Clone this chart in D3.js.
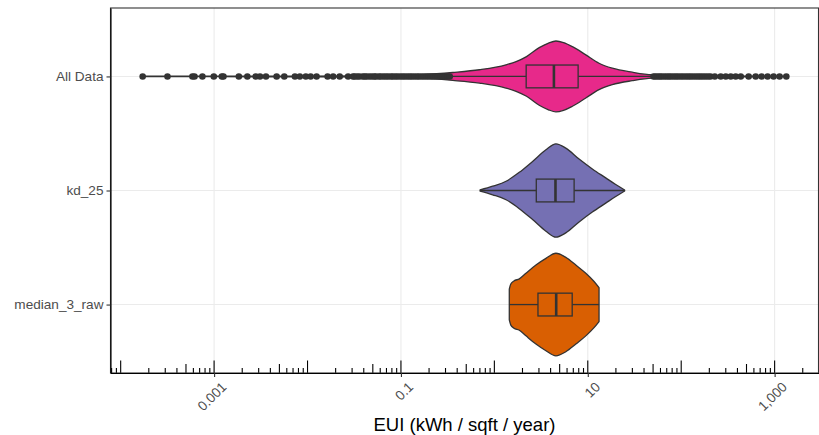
<!DOCTYPE html>
<html>
<head>
<meta charset="utf-8">
<title>EUI violins</title>
<script src="https://unpkg.com/d3@7.8.2/dist/d3.min.js"></script>
<style>
  body { margin: 0; background: #fff; }
  text { font-family: "Liberation Sans", Arial, sans-serif; }
</style>
</head>
<body>
<div id="chart"></div>
<script>
// groups, top to bottom
const groups = ["All Data", "kd_25", "median_3_raw"];
const fills = ["#E7298A", "#7570B3", "#D95F02"];

// violin outlines: EUI value and density (relative to the widest violin)
const allDataEui = [0.000172, 0.001, 0.01, 0.1, 0.359, 0.692, 1.33, 1.71, 2.21, 3.02, 3.8, 4.56, 5.5, 6.85, 9.53, 13.2, 18.3, 29.9, 49.0, 200, 1334];
const allDataDens = [0.004, 0.005, 0.007, 0.015, 0.077, 0.13, 0.226, 0.29, 0.387, 0.561, 0.65, 0.69, 0.66, 0.58, 0.42, 0.257, 0.16, 0.083, 0.033, 0.01, 0.004];
const kd25Eui = [0.703, 0.959, 1.334, 1.849, 2.564, 3.565, 4.56, 5.82, 8.07, 11.19, 15.56, 19.9, 24.8];
const kd25Dens = [0.01, 0.083, 0.18, 0.354, 0.567, 0.793, 0.909, 0.826, 0.613, 0.42, 0.246, 0.116, 0.01];
const median3Eui = [1.445, 1.5, 1.62, 1.849, 2.178, 2.786, 3.565, 4.56, 5.82, 7.45, 9.53, 11.67, 13.2];
const median3Dens = [0.3, 0.4, 0.46, 0.50, 0.61, 0.77, 0.90, 1.0, 0.92, 0.77, 0.61, 0.45, 0.33];

// boxplot stats per group
const whiskerLow = [0.348, 0.703, 1.445];
const q1 = [2.19, 2.81, 2.93];
const median = [4.34, 4.51, 4.59];
const q3 = [7.88, 7.14, 6.81];
const whiskerHigh = [48.6, 24.8, 13.2];

// outliers of "All Data"
const outliersLow = [0.000172, 0.000317, 0.000586, 0.000617, 0.00075, 0.000993, 0.00121, 0.00126, 0.00184,
  0.00227, 0.00279, 0.0031, 0.00359, 0.00467, 0.00564, 0.00733, 0.00828, 0.00959, 0.0108, 0.0125,
  0.0164, 0.0188, 0.0221, 0.0272, 0.0307, 0.032, 0.034, 0.036, 0.039, 0.041, 0.043, 0.046, 0.049,
  0.052, 0.054, 0.058, 0.061, 0.065, 0.069, 0.073, 0.078, 0.082, 0.087, 0.092, 0.098, 0.104, 0.11,
  0.117, 0.124, 0.131, 0.139, 0.148, 0.156, 0.166, 0.176, 0.187, 0.198, 0.21, 0.222, 0.236, 0.25,
  0.265, 0.281, 0.298, 0.316, 0.333];
const outliersHigh = [50.5, 53, 56, 59, 62, 66, 70, 74, 78, 83, 88, 93, 99, 105, 112, 119, 126, 134,
  143, 152, 161, 171, 182, 194, 206, 229, 265, 300, 339, 383, 434, 527, 627, 726, 841, 975, 1130, 1334];

const xBreaks = [0.001, 0.1, 10, 1000];

const W = 819, H = 435;
const panel = { left: 110.5, right: 818.5, top: 8, bottom: 373 };

const svg = d3.select("#chart").append("svg")
  .attr("width", W).attr("height", H);

// x: log scale with ggplot-style 5% expansion around the data
const lo = Math.log10(d3.min(outliersLow)), hi = Math.log10(d3.max(outliersHigh));
const pad = (hi - lo) * 0.05;
const x = d3.scaleLog()
  .domain([Math.pow(10, lo - pad), Math.pow(10, hi + pad)])
  .range([panel.left, panel.right]);

const y = d3.scalePoint()
  .domain(groups)
  .range([panel.top, panel.bottom])
  .padding(0.6);
const step = y.step();

// grid
svg.append("g").selectAll("line")
  .data(xBreaks).join("line")
  .attr("x1", d => x(d)).attr("x2", d => x(d))
  .attr("y1", panel.top).attr("y2", panel.bottom)
  .attr("stroke", "#ebebeb").attr("stroke-width", 1.1);
svg.append("g").selectAll("line")
  .data(groups).join("line")
  .attr("x1", panel.left).attr("x2", panel.right)
  .attr("y1", d => y(d)).attr("y2", d => y(d))
  .attr("stroke", "#ebebeb").attr("stroke-width", 1.1);

// violins
const violins = [
  { eui: allDataEui, dens: allDataDens },
  { eui: kd25Eui, dens: kd25Dens },
  { eui: median3Eui, dens: median3Dens }
];
const halfMax = 0.45 * step;

violins.forEach((v, i) => {
  const cy = y(groups[i]);
  const pts = v.eui.map((e, k) => [e, v.dens[k]]);
  const area = d3.area()
    .x(d => x(d[0]))
    .y0(d => cy + d[1] * halfMax)
    .y1(d => cy - d[1] * halfMax)
    .curve(d3.curveMonotoneX);
  svg.append("path")
    .datum(pts)
    .attr("d", area)
    .attr("fill", fills[i])
    .attr("stroke", "#333333")
    .attr("stroke-width", 1.3)
    .attr("stroke-linejoin", "round");
});

// boxplots
const boxHalf = 0.1 * step;
groups.forEach((g, i) => {
  const cy = y(g);
  const gb = svg.append("g").attr("stroke", "#333333").attr("stroke-width", 1.3);
  gb.append("line")
    .attr("x1", x(whiskerLow[i])).attr("x2", x(q1[i]))
    .attr("y1", cy).attr("y2", cy);
  gb.append("line")
    .attr("x1", x(q3[i])).attr("x2", x(whiskerHigh[i]))
    .attr("y1", cy).attr("y2", cy);
  gb.append("rect")
    .attr("x", x(q1[i])).attr("width", x(q3[i]) - x(q1[i]))
    .attr("y", cy - boxHalf).attr("height", 2 * boxHalf)
    .attr("fill", fills[i]);
  gb.append("line")
    .attr("x1", x(median[i])).attr("x2", x(median[i]))
    .attr("y1", cy - boxHalf).attr("y2", cy + boxHalf)
    .attr("stroke-width", 2.6);
});

// outliers
svg.append("g").selectAll("circle")
  .data(outliersLow.concat(outliersHigh)).join("circle")
  .attr("cx", d => x(d)).attr("cy", y("All Data"))
  .attr("r", 3.3)
  .attr("fill", "#333333");

// log ticks along the bottom
const logTicks = [];
for (let e = -5; e <= 4; e++) {
  for (let k = 1; k <= 9; k++) {
    const v = k * Math.pow(10, e);
    if (v >= x.domain()[0] && v <= x.domain()[1]) logTicks.push({ v, k });
  }
}
svg.append("g").selectAll("line")
  .data(logTicks).join("line")
  .attr("x1", d => x(d.v)).attr("x2", d => x(d.v))
  .attr("y1", panel.bottom)
  .attr("y2", d => panel.bottom - (d.k === 1 ? 12.5 : d.k === 5 ? 9 : 5))
  .attr("stroke", "#000").attr("stroke-width", 1.1);

// panel border
svg.append("rect")
  .attr("x", panel.left).attr("y", panel.top)
  .attr("width", panel.right - panel.left).attr("height", panel.bottom - panel.top)
  .attr("fill", "none").attr("stroke", "#333333").attr("stroke-width", 1.1);

// axes
const xAxis = svg.append("g")
  .attr("transform", `translate(0,${panel.bottom})`)
  .call(d3.axisBottom(x).tickValues(xBreaks).tickSize(4).tickSizeOuter(0)
    .tickFormat(d => d3.format(",")(d)));
xAxis.select(".domain").attr("stroke", "#000").attr("stroke-width", 1.1);
xAxis.selectAll(".tick line").attr("stroke", "#333333").attr("stroke-width", 1.1);
xAxis.selectAll(".tick text")
  .attr("fill", "#4d4d4d")
  .attr("font-size", 13.6)
  .attr("text-anchor", "end")
  .attr("dy", null)
  .attr("y", null)
  .attr("transform", "translate(6,8) rotate(-45)")
  .attr("dominant-baseline", "hanging");

const yAxis = svg.append("g")
  .attr("transform", `translate(${panel.left},0)`)
  .call(d3.axisLeft(y).tickSize(4).tickSizeOuter(0).tickPadding(3));
yAxis.select(".domain").attr("stroke", "#000").attr("stroke-width", 1.1);
yAxis.selectAll(".tick line").attr("stroke", "#333333").attr("stroke-width", 1.1);
yAxis.selectAll(".tick text")
  .attr("fill", "#4d4d4d")
  .attr("font-size", 13.6);

svg.append("text")
  .attr("x", (panel.left + panel.right) / 2)
  .attr("y", 431)
  .attr("text-anchor", "middle")
  .attr("font-size", 18.5)
  .attr("fill", "#000")
  .text("EUI (kWh / sqft / year)");
</script>
</body>
</html>
